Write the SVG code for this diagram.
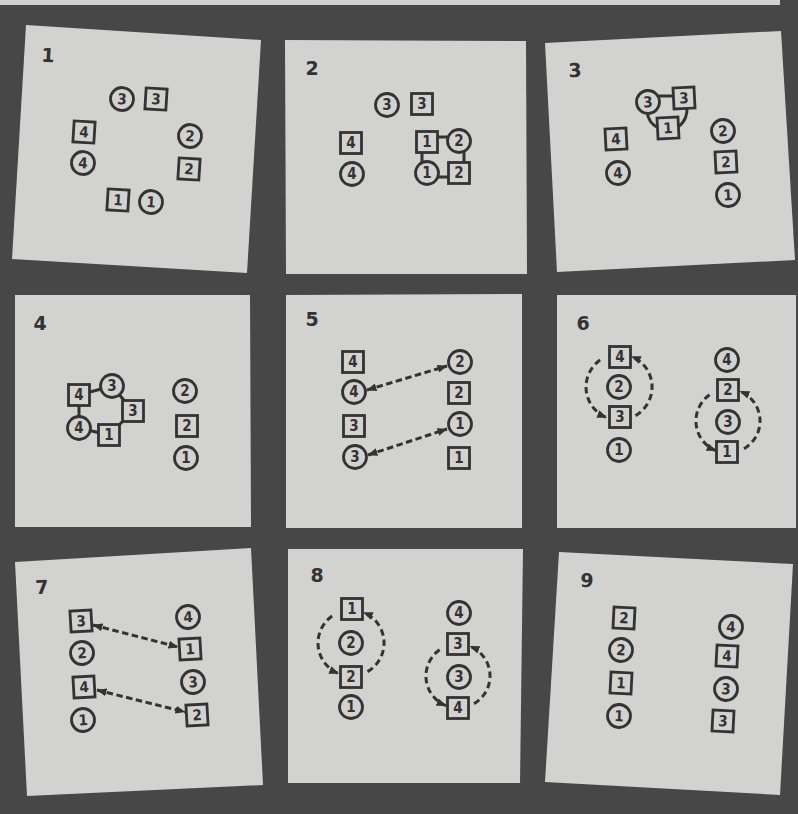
<svg xmlns="http://www.w3.org/2000/svg" width="798" height="814" viewBox="0 0 798 814">
<defs>
<style>
.card{fill:#d2d2d0}
.n{fill:#d2d2d0;stroke:#333333;stroke-width:2.8}
.t{font-family:"Liberation Sans Narrow","DejaVu Sans Condensed","Liberation Sans",sans-serif;font-weight:bold;font-size:15px;fill:#333333;text-anchor:middle}
.lbl{font-family:"DejaVu Sans","Liberation Sans",sans-serif;font-weight:bold;font-size:19px;fill:#333333;text-anchor:middle}
.ln{fill:none;stroke:#333333;stroke-width:3}
.dl{fill:none;stroke:#333333;stroke-width:3;stroke-dasharray:6.5 3.5;marker-start:url(#ah);marker-end:url(#ah)}
.ring{fill:none;stroke:#333333;stroke-width:3;stroke-dasharray:6.5 4;marker-end:url(#ah)}
</style>
<marker id="ah" viewBox="0 0 10 8" refX="9.5" refY="4" markerWidth="10" markerHeight="8" markerUnits="userSpaceOnUse" orient="auto-start-reverse">
<path d="M0,0 L10,4 L0,8 z" fill="#333333"/>
</marker>
<circle id="C" r="11.5" class="n"/>
<rect id="S" x="-10.5" y="-10.5" width="21" height="21" class="n"/>
</defs>
<rect width="798" height="814" fill="#474747"/>
<rect x="0" y="0" width="780" height="5" fill="#d2d2d0"/>

<!-- Panel 1 -->
<g id="panel1">
<polygon class="card" points="26,25 261,40 247,273 12,259"/>
<text class="lbl" x="48" y="62" transform="rotate(3.6 48 55)">1</text>
<g id="p1-c3" transform="translate(122,99) rotate(3.6)"><use href="#C"/><text class="t" y="5.3">3</text></g>
<g id="p1-s3" transform="translate(156,99) rotate(3.6)"><use href="#S"/><text class="t" y="5.3">3</text></g>
<g id="p1-s4" transform="translate(84,132) rotate(3.6)"><use href="#S"/><text class="t" y="5.3">4</text></g>
<g id="p1-c2" transform="translate(190,136) rotate(3.6)"><use href="#C"/><text class="t" y="5.3">2</text></g>
<g id="p1-c4" transform="translate(83,163) rotate(3.6)"><use href="#C"/><text class="t" y="5.3">4</text></g>
<g id="p1-s2" transform="translate(189,169) rotate(3.6)"><use href="#S"/><text class="t" y="5.3">2</text></g>
<g id="p1-s1" transform="translate(118,200) rotate(3.6)"><use href="#S"/><text class="t" y="5.3">1</text></g>
<g id="p1-c1" transform="translate(151,202) rotate(3.6)"><use href="#C"/><text class="t" y="5.3">1</text></g>
</g>

<!-- Panel 2 -->
<g id="panel2">
<polygon class="card" points="285,40 526,41 527,274 286,274"/>
<text class="lbl" x="312" y="75">2</text>
<g id="p2-connectors">
<line class="ln" x1="436" y1="137" x2="449" y2="137"/>
<line class="ln" x1="422" y1="151" x2="422" y2="163"/>
<line class="ln" x1="464" y1="151" x2="464" y2="163"/>
<line class="ln" x1="437" y1="177" x2="450" y2="177"/>
</g>
<g id="p2-c3" transform="translate(387,105)"><use href="#C"/><text class="t" y="5.3">3</text></g>
<g id="p2-s3" transform="translate(422,104)"><use href="#S"/><text class="t" y="5.3">3</text></g>
<g id="p2-s4" transform="translate(351,143)"><use href="#S"/><text class="t" y="5.3">4</text></g>
<g id="p2-s1" transform="translate(427,142)"><use href="#S"/><text class="t" y="5.3">1</text></g>
<g id="p2-c2" transform="translate(459,141)"><use href="#C"/><text class="t" y="5.3">2</text></g>
<g id="p2-c4" transform="translate(352,174)"><use href="#C"/><text class="t" y="5.3">4</text></g>
<g id="p2-c1" transform="translate(427,173)"><use href="#C"/><text class="t" y="5.3">1</text></g>
<g id="p2-s2" transform="translate(459,173)"><use href="#S"/><text class="t" y="5.3">2</text></g>
</g>

<!-- Panel 3 -->
<g id="panel3">
<polygon class="card" points="545,43 781,31 795,260 557,272"/>
<text class="lbl" x="575" y="77" transform="rotate(-2.9 575 70)">3</text>
<g id="p3-connectors">
<line class="ln" x1="655" y1="96" x2="677" y2="96"/>
<path class="ln" d="M647.1,111.7 A20,20 0 0 0 658.5,128.1"/>
<path class="ln" d="M686.7,106.5 A20,20 0 0 1 678.5,126.4"/>
</g>
<g id="p3-c3" transform="translate(648,102) rotate(-2.9)"><use href="#C"/><text class="t" y="5.3">3</text></g>
<g id="p3-s3" transform="translate(684,98) rotate(-2.9)"><use href="#S"/><text class="t" y="5.3">3</text></g>
<g id="p3-s1" transform="translate(668,128) rotate(-2.9)"><use href="#S"/><text class="t" y="5.3">1</text></g>
<g id="p3-s4" transform="translate(616,139) rotate(-2.9)"><use href="#S"/><text class="t" y="5.3">4</text></g>
<g id="p3-c2" transform="translate(723,131) rotate(-2.9)"><use href="#C"/><text class="t" y="5.3">2</text></g>
<g id="p3-c4" transform="translate(618,173) rotate(-2.9)"><use href="#C"/><text class="t" y="5.3">4</text></g>
<g id="p3-s2" transform="translate(726,162) rotate(-2.9)"><use href="#S"/><text class="t" y="5.3">2</text></g>
<g id="p3-c1" transform="translate(728,195) rotate(-2.9)"><use href="#C"/><text class="t" y="5.3">1</text></g>
</g>

<!-- Panel 4 -->
<g id="panel4">
<polygon class="card" points="15,295 250,295 251,527 15,527"/>
<text class="lbl" x="40" y="330">4</text>
<g id="p4-connectors">
<path class="ln" d="M79,395 L112,386 L133,411 L109,435 L79,428 Z"/>
</g>
<g id="p4-s4" transform="translate(79,395)"><use href="#S"/><text class="t" y="5.3">4</text></g>
<g id="p4-c3" transform="translate(112,386)"><use href="#C"/><text class="t" y="5.3">3</text></g>
<g id="p4-s3" transform="translate(133,411)"><use href="#S"/><text class="t" y="5.3">3</text></g>
<g id="p4-c4" transform="translate(79,428)"><use href="#C"/><text class="t" y="5.3">4</text></g>
<g id="p4-s1" transform="translate(109,435)"><use href="#S"/><text class="t" y="5.3">1</text></g>
<g id="p4-c2" transform="translate(185,391)"><use href="#C"/><text class="t" y="5.3">2</text></g>
<g id="p4-s2" transform="translate(187,426)"><use href="#S"/><text class="t" y="5.3">2</text></g>
<g id="p4-c1" transform="translate(186,458)"><use href="#C"/><text class="t" y="5.3">1</text></g>
</g>

<!-- Panel 5 -->
<g id="panel5">
<polygon class="card" points="286,295 522,294 522,528 286,528"/>
<text class="lbl" x="312" y="326">5</text>
<g id="p5-connectors">
<line class="dl" x1="367" y1="390" x2="447" y2="366"/>
<line class="dl" x1="368" y1="455" x2="447" y2="429"/>
</g>
<g id="p5-s4" transform="translate(353,362)"><use href="#S"/><text class="t" y="5.3">4</text></g>
<g id="p5-c4" transform="translate(354,392)"><use href="#C"/><text class="t" y="5.3">4</text></g>
<g id="p5-s3" transform="translate(354,426)"><use href="#S"/><text class="t" y="5.3">3</text></g>
<g id="p5-c3" transform="translate(355,457)"><use href="#C"/><text class="t" y="5.3">3</text></g>
<g id="p5-c2" transform="translate(460,362)"><use href="#C"/><text class="t" y="5.3">2</text></g>
<g id="p5-s2" transform="translate(459,393)"><use href="#S"/><text class="t" y="5.3">2</text></g>
<g id="p5-c1" transform="translate(460,424)"><use href="#C"/><text class="t" y="5.3">1</text></g>
<g id="p5-s1" transform="translate(459,458)"><use href="#S"/><text class="t" y="5.3">1</text></g>
</g>

<!-- Panel 6 -->
<g id="panel6">
<polygon class="card" points="557,295 796,295 796,528 557,528"/>
<text class="lbl" x="583" y="330">6</text>
<g id="p6-connectors">
<path class="ring" d="M600.1,360 A33,33 0 0 0 606.6,417.6"/>
<path class="ring" d="M635.5,415.6 A33,33 0 0 0 631.4,356.4"/>
<path class="ring" d="M709.6,394.8 A32,32 0 0 0 716,450.7"/>
<path class="ring" d="M744,448.7 A32,32 0 0 0 740,391.3"/>
</g>
<g id="p6-s4" transform="translate(620,357)"><use href="#S"/><text class="t" y="5.3">4</text></g>
<g id="p6-c2" transform="translate(619,387)"><use href="#C"/><text class="t" y="5.3">2</text></g>
<g id="p6-s3" transform="translate(620,417)"><use href="#S"/><text class="t" y="5.3">3</text></g>
<g id="p6-c1" transform="translate(619,450)"><use href="#C"/><text class="t" y="5.3">1</text></g>
<g id="p6-c4" transform="translate(727,360)"><use href="#C"/><text class="t" y="5.3">4</text></g>
<g id="p6-s2" transform="translate(728,390)"><use href="#S"/><text class="t" y="5.3">2</text></g>
<g id="p6-c3" transform="translate(728,422)"><use href="#C"/><text class="t" y="5.3">3</text></g>
<g id="p6-s1" transform="translate(727,452)"><use href="#S"/><text class="t" y="5.3">1</text></g>
</g>

<!-- Panel 7 -->
<g id="panel7">
<polygon class="card" points="15,562 251,548 263,785 27,796"/>
<text class="lbl" x="42" y="594" transform="rotate(-3.3 42 587)">7</text>
<g id="p7-connectors">
<line class="dl" x1="93" y1="625" x2="178" y2="647"/>
<line class="dl" x1="97" y1="690" x2="185" y2="712"/>
</g>
<g id="p7-s3" transform="translate(81,621) rotate(-3.3)"><use href="#S"/><text class="t" y="5.3">3</text></g>
<g id="p7-c2" transform="translate(82,653) rotate(-3.3)"><use href="#C"/><text class="t" y="5.3">2</text></g>
<g id="p7-s4" transform="translate(84,687) rotate(-3.3)"><use href="#S"/><text class="t" y="5.3">4</text></g>
<g id="p7-c1" transform="translate(83,720) rotate(-3.3)"><use href="#C"/><text class="t" y="5.3">1</text></g>
<g id="p7-c4" transform="translate(188,617) rotate(-3.3)"><use href="#C"/><text class="t" y="5.3">4</text></g>
<g id="p7-s1" transform="translate(190,649) rotate(-3.3)"><use href="#S"/><text class="t" y="5.3">1</text></g>
<g id="p7-c3" transform="translate(193,682) rotate(-3.3)"><use href="#C"/><text class="t" y="5.3">3</text></g>
<g id="p7-s2" transform="translate(197,715) rotate(-3.3)"><use href="#S"/><text class="t" y="5.3">2</text></g>
</g>

<!-- Panel 8 -->
<g id="panel8">
<polygon class="card" points="288,549 523,549 520,783 288,783"/>
<text class="lbl" x="317" y="582">8</text>
<g id="p8-connectors">
<path class="ring" d="M332.1,616 A33,33 0 0 0 338.6,673.6"/>
<path class="ring" d="M367.5,671.6 A33,33 0 0 0 363.4,612.4"/>
<path class="ring" d="M439.6,649.8 A32,32 0 0 0 446,705.7"/>
<path class="ring" d="M474,703.7 A32,32 0 0 0 470,646.3"/>
</g>
<g id="p8-s1" transform="translate(352,609)"><use href="#S"/><text class="t" y="5.3">1</text></g>
<g id="p8-c2" transform="translate(351,643)"><use href="#C"/><text class="t" y="5.3">2</text></g>
<g id="p8-s2" transform="translate(351,677)"><use href="#S"/><text class="t" y="5.3">2</text></g>
<g id="p8-c1" transform="translate(351,707)"><use href="#C"/><text class="t" y="5.3">1</text></g>
<g id="p8-c4" transform="translate(459,613)"><use href="#C"/><text class="t" y="5.3">4</text></g>
<g id="p8-s3" transform="translate(458,644)"><use href="#S"/><text class="t" y="5.3">3</text></g>
<g id="p8-c3" transform="translate(459,677)"><use href="#C"/><text class="t" y="5.3">3</text></g>
<g id="p8-s4" transform="translate(458,708)"><use href="#S"/><text class="t" y="5.3">4</text></g>
</g>

<!-- Panel 9 -->
<g id="panel9">
<polygon class="card" points="559,552 793,564 780,795 545,782"/>
<text class="lbl" x="587" y="587" transform="rotate(2.9 587 580)">9</text>
<g id="p9-s2" transform="translate(624,618) rotate(2.9)"><use href="#S"/><text class="t" y="5.3">2</text></g>
<g id="p9-c2" transform="translate(621,650) rotate(2.9)"><use href="#C"/><text class="t" y="5.3">2</text></g>
<g id="p9-s1" transform="translate(621,683) rotate(2.9)"><use href="#S"/><text class="t" y="5.3">1</text></g>
<g id="p9-c1" transform="translate(619,716) rotate(2.9)"><use href="#C"/><text class="t" y="5.3">1</text></g>
<g id="p9-c4" transform="translate(731,627) rotate(2.9)"><use href="#C"/><text class="t" y="5.3">4</text></g>
<g id="p9-s4" transform="translate(727,656) rotate(2.9)"><use href="#S"/><text class="t" y="5.3">4</text></g>
<g id="p9-c3" transform="translate(726,689) rotate(2.9)"><use href="#C"/><text class="t" y="5.3">3</text></g>
<g id="p9-s3" transform="translate(723,721) rotate(2.9)"><use href="#S"/><text class="t" y="5.3">3</text></g>
</g>
</svg>
